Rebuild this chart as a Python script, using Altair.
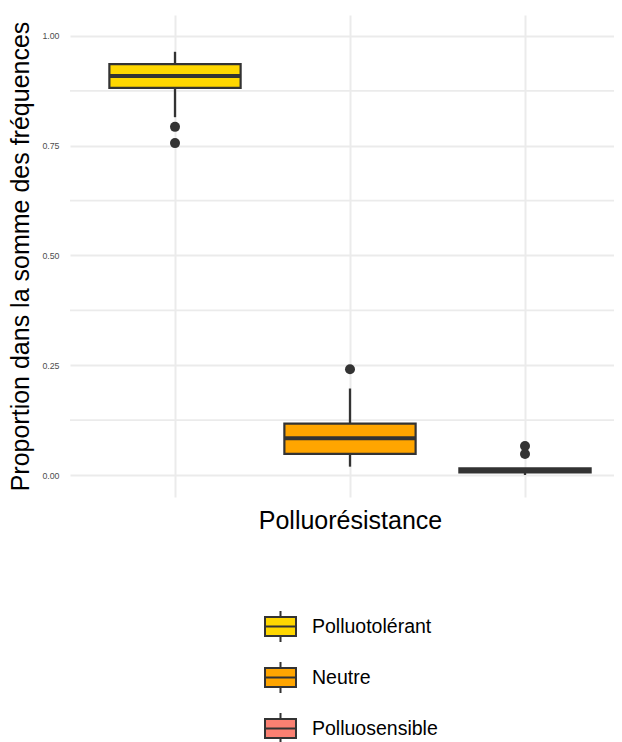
import altair as alt
import pandas as pd

# ---- data ----
categories = ["Polluotolérant", "Neutre", "Polluosensible"]
positions = [1, 2, 3]
whisker_low = [0.815, 0.019, 0.000]
q1 = [0.882, 0.048, 0.006]
median = [0.909, 0.084, 0.010]
q3 = [0.936, 0.117, 0.015]
whisker_high = [0.964, 0.197, 0.016]
colors = ["#FFD700", "#FFA500", "#FA8072"]

outlier_cat = ["Polluotolérant", "Polluotolérant", "Neutre", "Polluosensible", "Polluosensible"]
outlier_pos = [1, 1, 2, 3, 3]
outlier_val = [0.793, 0.756, 0.241, 0.066, 0.048]

y_breaks = [0.0, 0.25, 0.5, 0.75, 1.0]
y_minor = [0.125, 0.375, 0.625, 0.875]

# ---- tables ----
boxes = pd.DataFrame({
    "cat": categories, "pos": positions, "lo": whisker_low, "q1": q1,
    "med": median, "q3": q3, "hi": whisker_high,
})
outl = pd.DataFrame({"cat": outlier_cat, "pos": outlier_pos, "v": outlier_val})
minor = pd.DataFrame({"v": y_minor})

X_DOMAIN = [0.4, 3.5086]
Y_DOMAIN = [-0.0501, 1.0478]
GRID = "#EBEBEB"
DARK = "#333333"

x_axis = alt.Axis(
    values=positions, labels=False, ticks=False, domain=False,
    grid=True, gridColor=GRID, gridWidth=2,
    title="Polluorésistance", titleFontSize=25, titleFontWeight="normal",
    titleColor="black", titleX=280, titleY=31, titleAlign="center",
    titleBaseline="alphabetic",
)
y_axis = alt.Axis(
    values=y_breaks, format=".2f", labelFontSize=8.8, labelColor="#4D4D4D",
    labelPadding=11, ticks=False, domain=False, grid=True, gridColor=GRID,
    gridWidth=2,
    title="Proportion dans la somme des fréquences", titleFontSize=25,
    titleFontWeight="normal", titleColor="black", titleAngle=-90,
    titleX=-41.5, titleY=241, titleAlign="center", titleBaseline="alphabetic",
)
xs = alt.Scale(domain=X_DOMAIN, nice=False, zero=False)
ys = alt.Scale(domain=Y_DOMAIN, nice=False, zero=False)

minor_grid = alt.Chart(minor).mark_rule(color=GRID, strokeWidth=1.6).encode(
    y=alt.Y("v:Q", scale=ys, axis=y_axis),
    x=alt.datum(X_DOMAIN[0], scale=xs, axis=x_axis),
    x2=alt.datum(X_DOMAIN[1]),
)

base = alt.Chart(boxes).transform_calculate(
    xl="datum.pos - 0.375", xr="datum.pos + 0.375"
)

whisk_lo = base.mark_rule(color=DARK, strokeWidth=2.3).encode(
    x=alt.X("pos:Q", scale=xs, axis=x_axis),
    y=alt.Y("lo:Q", scale=ys, axis=y_axis),
    y2="q1:Q",
)
whisk_hi = base.mark_rule(color=DARK, strokeWidth=2.3).encode(
    x=alt.X("pos:Q", scale=xs, axis=x_axis),
    y=alt.Y("q3:Q", scale=ys, axis=y_axis),
    y2="hi:Q",
)

legend = alt.Legend(
    orient="none", legendX=194, legendY=595, direction="vertical", title=None,
    symbolType="M-1,-0.62H1V0.62H-1Z M-1,0H1 M0,-0.62V-1 M0,0.62V1",
    symbolSize=961, symbolStrokeColor=DARK, symbolStrokeWidth=2,
    symbolOpacity=1, labelFontSize=19.5, labelColor="black", labelOffset=15,
    rowPadding=12, padding=0,
)

box = base.mark_bar(stroke=DARK, strokeWidth=2.2, opacity=1).encode(
    x=alt.X("xl:Q", scale=xs, axis=x_axis),
    x2="xr:Q",
    y=alt.Y("q1:Q", scale=ys, axis=y_axis),
    y2="q3:Q",
    fill=alt.Fill("cat:N", scale=alt.Scale(domain=categories, range=colors),
                  legend=legend),
)

med = base.mark_rule(color=DARK, strokeWidth=4).encode(
    x=alt.X("xl:Q", scale=xs, axis=x_axis),
    x2="xr:Q",
    y=alt.Y("med:Q", scale=ys, axis=y_axis),
)

pts = alt.Chart(outl).mark_circle(color=DARK, size=100, opacity=1).encode(
    x=alt.X("pos:Q", scale=xs, axis=x_axis),
    y=alt.Y("v:Q", scale=ys, axis=y_axis),
)

chart = alt.layer(minor_grid, whisk_lo, whisk_hi, box, med, pts).properties(
    width=544, height=482,
    autosize=alt.AutoSizeParams(type="none"),
    padding={"left": 62, "top": 7, "right": 0, "bottom": 245},
).configure(font="Liberation Sans").configure_view(stroke=None)

chart.save("out.html", embed_options={"renderer": "svg", "actions": False})
